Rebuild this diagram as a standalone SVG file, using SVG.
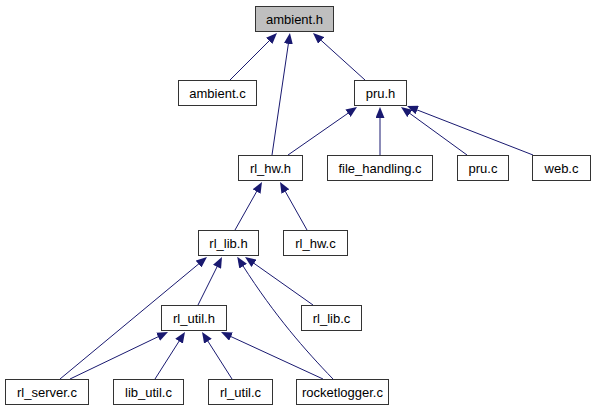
<svg xmlns="http://www.w3.org/2000/svg" width="595" height="411" viewBox="0 0 595 411">
<style>
.n rect{fill:#ffffff;stroke:#333333;stroke-width:1}
.n.g rect{fill:#bfbfbf}
.n text{font-family:"Liberation Sans",Arial,sans-serif;font-size:13px;fill:#000000;text-anchor:middle}
.e path{fill:none;stroke:#191970;stroke-width:1}
</style>
<defs>
<marker id="a" markerUnits="userSpaceOnUse" markerWidth="11" markerHeight="9" viewBox="0 0 11 9" refX="1" refY="4.5" orient="auto">
<path d="M0,0 L11,4.5 L0,9 Z" fill="#191970"/>
</marker>
</defs>
<rect width="595" height="411" fill="#ffffff"/>
<g id="edges" class="e">
<path d="M230,80 L269.9,40.1" marker-end="url(#a)"/>
<path d="M272,155 L288.5,42.9" marker-end="url(#a)"/>
<path d="M365,80 L320.4,39.7" marker-end="url(#a)"/>
<path d="M288,155 L348.8,112.7" marker-end="url(#a)"/>
<path d="M380,155 L380,117" marker-end="url(#a)"/>
<path d="M467,155 L409.1,112.9" marker-end="url(#a)"/>
<path d="M533,155 L416.3,109.6" marker-end="url(#a)"/>
<path d="M235,230 L257.1,190.7" marker-end="url(#a)"/>
<path d="M307,230 L284.9,190.7" marker-end="url(#a)"/>
<path d="M60,379 L199.3,263.4" marker-end="url(#a)"/>
<path d="M198,305 L217.5,265.9" marker-end="url(#a)"/>
<path d="M333,379 C305,350 275,316 242.6,265.3" marker-end="url(#a)"/>
<path d="M313,305 L253.2,262.8" marker-end="url(#a)"/>
<path d="M70,379 L159,336.3" marker-end="url(#a)"/>
<path d="M155,379 L179.6,340.4" marker-end="url(#a)"/>
<path d="M232,379 L207.4,340.4" marker-end="url(#a)"/>
<path d="M323,379 L230.1,336.2" marker-end="url(#a)"/>
</g>
<g id="ambient_h" class="n g"><rect x="255.5" y="6.5" width="78" height="25"/><text x="294.5" y="23.5">ambient.h</text></g>
<g id="ambient_c" class="n"><rect x="178.5" y="80.5" width="78" height="25"/><text x="217.5" y="97.5">ambient.c</text></g>
<g id="pru_h" class="n"><rect x="354.5" y="80.5" width="52" height="25"/><text x="380.5" y="97.5">pru.h</text></g>
<g id="rl_hw_h" class="n"><rect x="238.5" y="155.5" width="64" height="25"/><text x="270.5" y="172.5">rl_hw.h</text></g>
<g id="file_handling_c" class="n"><rect x="327.5" y="155.5" width="105" height="25"/><text x="380" y="172.5">file_handling.c</text></g>
<g id="pru_c" class="n"><rect x="457.5" y="155.5" width="51" height="25"/><text x="483" y="172.5">pru.c</text></g>
<g id="web_c" class="n"><rect x="532.5" y="155.5" width="58" height="25"/><text x="561.5" y="172.5">web.c</text></g>
<g id="rl_lib_h" class="n"><rect x="198.5" y="230.5" width="60" height="25"/><text x="228.5" y="247.5">rl_lib.h</text></g>
<g id="rl_hw_c" class="n"><rect x="283.5" y="230.5" width="64" height="25"/><text x="315.5" y="247.5">rl_hw.c</text></g>
<g id="rl_util_h" class="n"><rect x="161.5" y="305.5" width="65" height="25"/><text x="194" y="322.5">rl_util.h</text></g>
<g id="rl_lib_c" class="n"><rect x="301.5" y="305.5" width="60" height="25"/><text x="331.5" y="322.5">rl_lib.c</text></g>
<g id="rl_server_c" class="n"><rect x="5.5" y="379.5" width="83" height="25"/><text x="47" y="396.5">rl_server.c</text></g>
<g id="lib_util_c" class="n"><rect x="113.5" y="379.5" width="70" height="25"/><text x="148.5" y="396.5">lib_util.c</text></g>
<g id="rl_util_c" class="n"><rect x="208.5" y="379.5" width="64" height="25"/><text x="240.5" y="396.5">rl_util.c</text></g>
<g id="rocketlogger_c" class="n"><rect x="296.5" y="379.5" width="92" height="25"/><text x="342.5" y="396.5">rocketlogger.c</text></g>
</svg>
